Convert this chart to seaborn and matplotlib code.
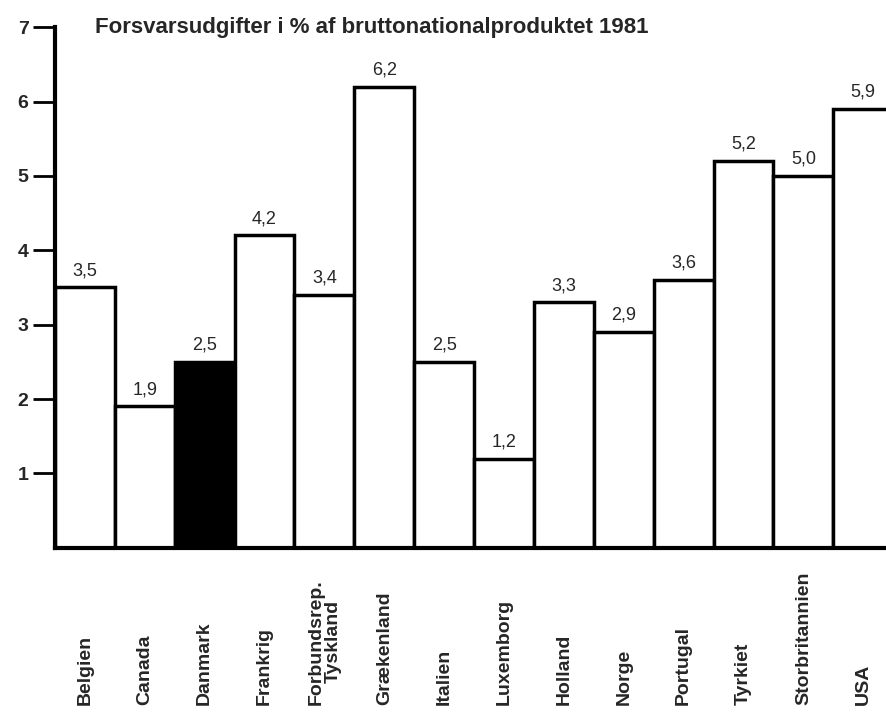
import matplotlib
matplotlib.use("Agg")
import matplotlib.pyplot as plt
import seaborn as sns

countries = ["Belgien", "Canada", "Danmark", "Frankrig", "Forbundsrep.\nTyskland",
             "Grækenland", "Italien", "Luxemborg", "Holland", "Norge", "Portugal",
             "Tyrkiet", "Storbritannien", "USA"]
values = [3.5, 1.9, 2.5, 4.2, 3.4, 6.2, 2.5, 1.2, 3.3, 2.9, 3.6, 5.2, 5.0, 5.9]
highlight = "Danmark"
yticks = [1, 2, 3, 4, 5, 6, 7]
title = "Forsvarsudgifter i % af bruttonationalproduktet 1981"

sns.set_style("white")
plt.rcParams['font.family'] = ['Liberation Sans', 'DejaVu Sans']

fig = plt.figure(figsize=(8.87, 7.16), dpi=100)
ax = fig.add_axes([0.062, 0.235, 0.945, 0.727])

colors = ["black" if c == highlight else "white" for c in countries]
sns.barplot(x=countries, y=values, hue=countries, palette=colors, width=1.0,
            edgecolor="black", linewidth=2.5, legend=False, ax=ax)

# værdier over søjlerne, dansk decimalkomma
labels = [f"{v:.1f}".replace(".", ",") for v in values]
for k, cont in enumerate(ax.containers):
    ax.bar_label(cont, labels=[labels[k]], padding=6, fontsize=13)

ax.set_xlim(-0.5, 13.5)
ax.set_ylim(0, 7)
ax.set_yticks(yticks)
ax.set_yticklabels([str(t) for t in yticks], fontsize=14, fontweight="bold")
ax.tick_params(axis="y", direction="out", length=16, width=2, pad=3, left=True,
               color="black")
ax.tick_params(axis="x", length=0, pad=113)
ax.set_xticks(range(len(countries)))
ax.set_xticklabels(countries, rotation=90, va="bottom", ha="center",
                   fontsize=14, fontweight="bold", linespacing=1.0)

for s in ["top", "right"]:
    ax.spines[s].set_visible(False)
for s in ["left", "bottom"]:
    ax.spines[s].set_linewidth(3)
    ax.spines[s].set_color("black")
ax.set_xlabel("")
ax.set_ylabel("")

fig.text(0.107, 0.962, title, fontsize=16, fontweight="bold", ha="left", va="center")

fig.savefig("out.png", dpi=100)
